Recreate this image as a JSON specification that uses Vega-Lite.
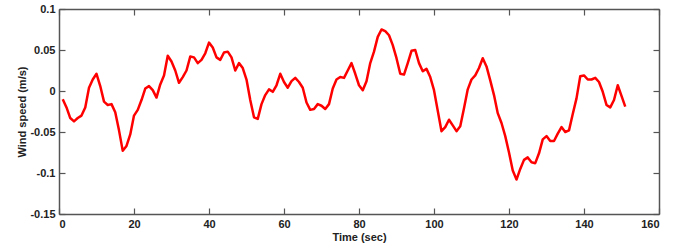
{
  "$schema": "https://vega.github.io/schema/vega-lite/v6.json",
  "autosize": {"type": "none"},
  "padding": {"left": 59, "top": 9, "right": 38, "bottom": 35},
  "width": 600,
  "height": 205,
  "background": "white",
  "config": {
    "view": {"stroke": null},
    "axis": {
      "grid": false,
      "labelFont": "Liberation Sans",
      "titleFont": "Liberation Sans",
      "labelFontWeight": "bold",
      "titleFontWeight": "bold",
      "labelFontSize": 11,
      "titleFontSize": 11,
      "labelColor": "#222",
      "titleColor": "#222",
      "domainColor": "#555",
      "domainWidth": 1.5,
      "tickColor": "#555",
      "tickWidth": 1.2,
      "tickSize": -6
    }
  },
  "data": {
    "values": [
      {"t": 1, "v": -0.010}, {"t": 2, "v": -0.020}, {"t": 3, "v": -0.033}, {"t": 4, "v": -0.037},
      {"t": 5, "v": -0.033}, {"t": 6, "v": -0.030}, {"t": 7, "v": -0.020}, {"t": 8, "v": 0.004},
      {"t": 9, "v": 0.014}, {"t": 10, "v": 0.021}, {"t": 11, "v": 0.006}, {"t": 12, "v": -0.013},
      {"t": 13, "v": -0.017}, {"t": 14, "v": -0.016}, {"t": 15, "v": -0.026}, {"t": 16, "v": -0.048},
      {"t": 17, "v": -0.073}, {"t": 18, "v": -0.067}, {"t": 19, "v": -0.053}, {"t": 20, "v": -0.030},
      {"t": 21, "v": -0.023}, {"t": 22, "v": -0.011}, {"t": 23, "v": 0.003}, {"t": 24, "v": 0.006},
      {"t": 25, "v": 0.001}, {"t": 26, "v": -0.008}, {"t": 27, "v": 0.008}, {"t": 28, "v": 0.019},
      {"t": 29, "v": 0.043}, {"t": 30, "v": 0.036}, {"t": 31, "v": 0.025}, {"t": 32, "v": 0.010},
      {"t": 33, "v": 0.017}, {"t": 34, "v": 0.025}, {"t": 35, "v": 0.042}, {"t": 36, "v": 0.041},
      {"t": 37, "v": 0.034}, {"t": 38, "v": 0.038}, {"t": 39, "v": 0.046}, {"t": 40, "v": 0.059},
      {"t": 41, "v": 0.053}, {"t": 42, "v": 0.041}, {"t": 43, "v": 0.038}, {"t": 44, "v": 0.047},
      {"t": 45, "v": 0.048}, {"t": 46, "v": 0.041}, {"t": 47, "v": 0.025}, {"t": 48, "v": 0.034},
      {"t": 49, "v": 0.028}, {"t": 50, "v": 0.014}, {"t": 51, "v": -0.011}, {"t": 52, "v": -0.032},
      {"t": 53, "v": -0.034}, {"t": 54, "v": -0.016}, {"t": 55, "v": -0.005}, {"t": 56, "v": 0.002},
      {"t": 57, "v": -0.001}, {"t": 58, "v": 0.007}, {"t": 59, "v": 0.021}, {"t": 60, "v": 0.011},
      {"t": 61, "v": 0.004}, {"t": 62, "v": 0.012}, {"t": 63, "v": 0.016}, {"t": 64, "v": 0.011},
      {"t": 65, "v": 0.004}, {"t": 66, "v": -0.014}, {"t": 67, "v": -0.023}, {"t": 68, "v": -0.022},
      {"t": 69, "v": -0.016}, {"t": 70, "v": -0.018}, {"t": 71, "v": -0.022}, {"t": 72, "v": -0.016},
      {"t": 73, "v": 0.003}, {"t": 74, "v": 0.014}, {"t": 75, "v": 0.017}, {"t": 76, "v": 0.016},
      {"t": 77, "v": 0.025}, {"t": 78, "v": 0.034}, {"t": 79, "v": 0.021}, {"t": 80, "v": 0.007},
      {"t": 81, "v": 0.001}, {"t": 82, "v": 0.012}, {"t": 83, "v": 0.034}, {"t": 84, "v": 0.048},
      {"t": 85, "v": 0.066}, {"t": 86, "v": 0.075}, {"t": 87, "v": 0.073}, {"t": 88, "v": 0.068},
      {"t": 89, "v": 0.056}, {"t": 90, "v": 0.040}, {"t": 91, "v": 0.021}, {"t": 92, "v": 0.020},
      {"t": 93, "v": 0.034}, {"t": 94, "v": 0.049}, {"t": 95, "v": 0.050}, {"t": 96, "v": 0.034},
      {"t": 97, "v": 0.024}, {"t": 98, "v": 0.027}, {"t": 99, "v": 0.017}, {"t": 100, "v": 0.001},
      {"t": 101, "v": -0.024}, {"t": 102, "v": -0.049}, {"t": 103, "v": -0.044}, {"t": 104, "v": -0.035},
      {"t": 105, "v": -0.042}, {"t": 106, "v": -0.049}, {"t": 107, "v": -0.043}, {"t": 108, "v": -0.021},
      {"t": 109, "v": 0.002}, {"t": 110, "v": 0.014}, {"t": 111, "v": 0.019}, {"t": 112, "v": 0.028},
      {"t": 113, "v": 0.040}, {"t": 114, "v": 0.030}, {"t": 115, "v": 0.013}, {"t": 116, "v": -0.005},
      {"t": 117, "v": -0.027}, {"t": 118, "v": -0.039}, {"t": 119, "v": -0.055}, {"t": 120, "v": -0.075},
      {"t": 121, "v": -0.097}, {"t": 122, "v": -0.108}, {"t": 123, "v": -0.095}, {"t": 124, "v": -0.084},
      {"t": 125, "v": -0.081}, {"t": 126, "v": -0.087}, {"t": 127, "v": -0.088}, {"t": 128, "v": -0.076},
      {"t": 129, "v": -0.059}, {"t": 130, "v": -0.055}, {"t": 131, "v": -0.061}, {"t": 132, "v": -0.061},
      {"t": 133, "v": -0.052}, {"t": 134, "v": -0.044}, {"t": 135, "v": -0.050}, {"t": 136, "v": -0.048},
      {"t": 137, "v": -0.028}, {"t": 138, "v": -0.009}, {"t": 139, "v": 0.018}, {"t": 140, "v": 0.019},
      {"t": 141, "v": 0.014}, {"t": 142, "v": 0.014}, {"t": 143, "v": 0.016}, {"t": 144, "v": 0.011},
      {"t": 145, "v": -0.001}, {"t": 146, "v": -0.017}, {"t": 147, "v": -0.020}, {"t": 148, "v": -0.011},
      {"t": 149, "v": 0.007}, {"t": 150, "v": -0.006}, {"t": 151, "v": -0.019}
    ]
  },
  "layer": [
    {
      "mark": {"type": "line", "color": "#ff0000", "strokeWidth": 2.5, "strokeJoin": "round"},
      "encoding": {
        "x": {
          "field": "t", "type": "quantitative",
          "scale": {"domain": [0, 160], "nice": false, "zero": false},
          "axis": {"orient": "bottom", "title": "Time (sec)", "values": [0, 20, 40, 60, 80, 100, 120, 140, 160], "labelPadding": 10, "titlePadding": 2}
        },
        "y": {
          "field": "v", "type": "quantitative",
          "scale": {"domain": [-0.15, 0.1], "nice": false, "zero": false},
          "axis": {"orient": "left", "title": "Wind speed (m/s)", "values": [-0.15, -0.1, -0.05, 0, 0.05, 0.1], "labelExpr": "'' + datum.value", "labelPadding": 10, "titlePadding": 2}
        }
      }
    },
    {
      "mark": {"type": "line", "strokeOpacity": 0},
      "encoding": {
        "x": {
          "field": "t", "type": "quantitative",
          "scale": {"domain": [0, 160], "nice": false, "zero": false},
          "axis": {"orient": "top", "title": null, "labels": false, "values": [0, 20, 40, 60, 80, 100, 120, 140, 160]}
        },
        "y": {
          "field": "v", "type": "quantitative",
          "scale": {"domain": [-0.15, 0.1], "nice": false, "zero": false},
          "axis": {"orient": "right", "title": null, "labels": false, "values": [-0.15, -0.1, -0.05, 0, 0.05, 0.1]}
        }
      }
    }
  ],
  "resolve": {"axis": {"x": "independent", "y": "independent"}}
}
